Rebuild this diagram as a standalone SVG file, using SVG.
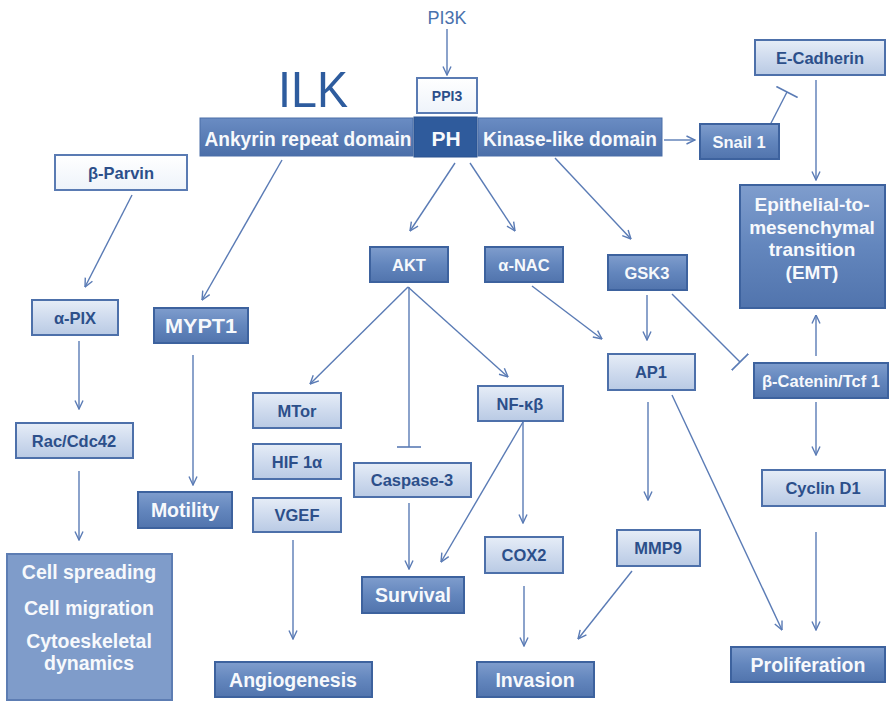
<svg xmlns="http://www.w3.org/2000/svg" width="890" height="703" viewBox="0 0 890 703">
  <defs>
    <linearGradient id="gDark" x1="0" y1="0" x2="0" y2="1">
      <stop offset="0" stop-color="#7f9dcd"/>
      <stop offset="0.5" stop-color="#6386bd"/>
      <stop offset="1" stop-color="#5174ad"/>
    </linearGradient>
    <linearGradient id="gLight" x1="0" y1="0" x2="0" y2="1">
      <stop offset="0" stop-color="#e6edf7"/>
      <stop offset="0.5" stop-color="#cfdbee"/>
      <stop offset="1" stop-color="#b9cae4"/>
    </linearGradient>
    <linearGradient id="gWhite" x1="0" y1="0" x2="0" y2="1">
      <stop offset="0" stop-color="#ffffff"/>
      <stop offset="1" stop-color="#eef3fa"/>
    </linearGradient>
    <linearGradient id="gBar" x1="0" y1="0" x2="0" y2="1">
      <stop offset="0" stop-color="#6a8cc3"/>
      <stop offset="1" stop-color="#4b6fa9"/>
    </linearGradient>
    <marker id="arrow" viewBox="0 0 10 10" refX="9.5" refY="5" markerWidth="10" markerHeight="10" markerUnits="userSpaceOnUse" orient="auto">
      <path d="M1,1 L9.5,5 L1,9" fill="none" stroke="#5a7bb5" stroke-width="1.4"/>
    </marker>
    <marker id="tee" viewBox="0 0 4 24" refX="2" refY="12" markerWidth="4" markerHeight="24" markerUnits="userSpaceOnUse" orient="auto">
      <path d="M2,0 L2,24" stroke="#5a7bb5" stroke-width="1.6"/>
    </marker>
  </defs>
  <style>
    .dk { fill: url(#gDark); stroke: #3d629e; stroke-width: 2; }
    .lt { fill: url(#gLight); stroke: #4d70aa; stroke-width: 2; }
    .wh { fill: url(#gWhite); stroke: #5a7bb3; stroke-width: 2; }
    text { font-family: "Liberation Sans", Arial, sans-serif; font-weight: bold; text-anchor: middle; dominant-baseline: central; }
    .tw { fill: #f7f9fc; }
    .tb { fill: #2c4f8a; }
    .s { font-size: 16.5px; }
    .b { font-size: 19.5px; }
    .cn line, .cn path { stroke: #5a7bb5; stroke-width: 1.4; fill: none; }
    .ar { marker-end: url(#arrow); }
    .in { marker-end: url(#tee); }
  </style>

  <rect width="890" height="703" fill="#ffffff"/>

  <!-- titles -->
  <text x="313" y="90" style="font-size:50px;font-weight:normal;fill:#2e5c9e" textLength="70" lengthAdjust="spacingAndGlyphs">ILK</text>
  <text x="447" y="18" style="font-size:18px;font-weight:normal;fill:#4a72ad">PI3K</text>

  <!-- connectors -->
  <g id="connectors" class="cn">
    <line class="ar" x1="447" y1="29" x2="447" y2="75"/>
    <line class="ar" x1="664" y1="140" x2="695" y2="140"/>
    <line class="in" x1="769" y1="127" x2="787" y2="92"/>
    <line class="ar" x1="816" y1="80" x2="816" y2="180"/>
    <line class="ar" x1="816" y1="356" x2="816" y2="315"/>
    <line class="ar" x1="132" y1="195" x2="85" y2="287"/>
    <line class="ar" x1="79" y1="341" x2="79" y2="409"/>
    <line class="ar" x1="79" y1="471" x2="79" y2="540"/>
    <line class="ar" x1="282" y1="160" x2="202" y2="300"/>
    <line class="ar" x1="193" y1="355" x2="193" y2="485"/>
    <line class="ar" x1="455" y1="163" x2="410" y2="231"/>
    <line class="ar" x1="470" y1="163" x2="515" y2="231"/>
    <line class="ar" x1="555" y1="158" x2="631" y2="239"/>
    <line class="ar" x1="408" y1="287" x2="310" y2="384"/>
    <line class="in" x1="409" y1="287" x2="409" y2="447"/>
    <line class="ar" x1="408" y1="287" x2="508" y2="377"/>
    <line class="ar" x1="532" y1="286" x2="602" y2="339"/>
    <line class="ar" x1="647" y1="295" x2="647" y2="340"/>
    <line class="in" x1="672" y1="294" x2="740" y2="362"/>
    <line class="ar" x1="293" y1="540" x2="293" y2="639"/>
    <line class="ar" x1="409" y1="503" x2="409" y2="569"/>
    <line class="ar" x1="523" y1="422" x2="441" y2="562"/>
    <line class="ar" x1="523" y1="422" x2="523" y2="523"/>
    <line class="ar" x1="524" y1="586" x2="524" y2="646"/>
    <line class="ar" x1="632" y1="571" x2="578" y2="639"/>
    <line class="ar" x1="648" y1="402" x2="648" y2="500"/>
    <line class="ar" x1="672" y1="395" x2="782" y2="630"/>
    <line class="ar" x1="816" y1="402" x2="816" y2="455"/>
    <line class="ar" x1="816" y1="532" x2="816" y2="630"/>
  </g>

  <!-- ILK domain bar -->
  <g id="ankyrin">
    <rect x="200" y="118" width="213" height="38" fill="url(#gBar)" stroke="#4a6ea8" stroke-width="1"/>
    <text class="tw" x="308" y="138" style="font-size:21px" textLength="207" lengthAdjust="spacingAndGlyphs">Ankyrin repeat domain</text>
  </g>
  <g id="ph">
    <rect x="414" y="117" width="63" height="40" fill="#2f5b9c" stroke="#2a5290" stroke-width="1"/>
    <text class="tw" x="446" y="138" style="font-size:21px">PH</text>
  </g>
  <g id="kinase">
    <rect x="478" y="118" width="184" height="38" fill="url(#gBar)" stroke="#4a6ea8" stroke-width="1"/>
    <text class="tw" x="570" y="138" style="font-size:21px" textLength="174" lengthAdjust="spacingAndGlyphs">Kinase-like domain</text>
  </g>

  <g id="ppi3">
    <rect class="wh" x="417" y="78" width="60" height="35"/>
    <text class="tb" x="447" y="96" style="font-size:14px">PPI3</text>
  </g>
  <g id="snail1">
    <rect class="dk" x="700" y="124" width="79" height="35"/>
    <text class="tw s" x="739" y="142">Snail 1</text>
  </g>
  <g id="ecadherin">
    <rect class="lt" x="755" y="40" width="130" height="35"/>
    <text class="tb s" x="820" y="58">E-Cadherin</text>
  </g>
  <g id="emt">
    <rect class="dk" x="740" y="185" width="145" height="123"/>
    <text class="tw" x="812" y="204" style="font-size:19px">Epithelial-to-</text>
    <text class="tw" x="812" y="227" style="font-size:19px">mesenchymal</text>
    <text class="tw" x="812" y="249" style="font-size:19px">transition</text>
    <text class="tw" x="812" y="272" style="font-size:19px">(EMT)</text>
  </g>

  <g id="bparvin">
    <rect class="wh" x="55" y="155" width="132" height="35"/>
    <text class="tb s" x="121" y="173">β-Parvin</text>
  </g>
  <g id="apix">
    <rect class="lt" x="32" y="300" width="86" height="35"/>
    <text class="tb s" x="75" y="318">α-PIX</text>
  </g>
  <g id="raccdc42">
    <rect class="lt" x="16" y="423" width="117" height="35"/>
    <text class="tb s" x="74" y="441">Rac/Cdc42</text>
  </g>
  <g id="cellspreading">
    <rect x="7" y="554" width="165" height="146" fill="#7f9cca" stroke="#5d7db3" stroke-width="2"/>
    <text class="tw b" x="89" y="572">Cell spreading</text>
    <text class="tw b" x="89" y="608">Cell migration</text>
    <text class="tw b" x="89" y="641">Cytoeskeletal</text>
    <text class="tw b" x="89" y="663">dynamics</text>
  </g>

  <g id="mypt1">
    <rect class="dk" x="154" y="308" width="94" height="35"/>
    <text class="tw" x="201" y="326" style="font-size:20px" textLength="72" lengthAdjust="spacingAndGlyphs">MYPT1</text>
  </g>
  <g id="motility">
    <rect class="dk" x="138" y="492" width="94" height="36"/>
    <text class="tw b" x="185" y="510">Motility</text>
  </g>

  <g id="akt">
    <rect class="dk" x="370" y="247" width="78" height="35"/>
    <text class="tw s" x="409" y="265">AKT</text>
  </g>
  <g id="anac">
    <rect class="dk" x="485" y="247" width="78" height="35"/>
    <text class="tw s" x="524" y="265">α-NAC</text>
  </g>
  <g id="gsk3">
    <rect class="dk" x="608" y="255" width="79" height="35"/>
    <text class="tw s" x="647" y="273">GSK3</text>
  </g>

  <g id="mtor">
    <rect class="lt" x="253" y="393" width="88" height="35"/>
    <text class="tb s" x="297" y="411">MTor</text>
  </g>
  <g id="hif1a">
    <rect class="lt" x="253" y="444" width="88" height="35"/>
    <text class="tb s" x="297" y="462">HIF 1α</text>
  </g>
  <g id="vgef">
    <rect class="lt" x="253" y="498" width="88" height="34"/>
    <text class="tb s" x="297" y="515">VGEF</text>
  </g>
  <g id="angiogenesis">
    <rect class="dk" x="215" y="662" width="157" height="35"/>
    <text class="tw b" x="293" y="680">Angiogenesis</text>
  </g>

  <g id="caspase3">
    <rect class="lt" x="354" y="463" width="117" height="34"/>
    <text class="tb s" x="412" y="480">Caspase-3</text>
  </g>
  <g id="survival">
    <rect class="dk" x="362" y="577" width="102" height="36"/>
    <text class="tw b" x="413" y="595">Survival</text>
  </g>

  <g id="nfkb">
    <rect class="lt" x="478" y="386" width="85" height="35"/>
    <text class="tb s" x="520" y="404">NF-κβ</text>
  </g>
  <g id="cox2">
    <rect class="lt" x="485" y="537" width="78" height="36"/>
    <text class="tb s" x="524" y="555">COX2</text>
  </g>
  <g id="invasion">
    <rect class="dk" x="477" y="662" width="117" height="35"/>
    <text class="tw b" x="535" y="680">Invasion</text>
  </g>

  <g id="ap1">
    <rect class="lt" x="608" y="354" width="87" height="36"/>
    <text class="tb s" x="651" y="372">AP1</text>
  </g>
  <g id="mmp9">
    <rect class="lt" x="617" y="530" width="83" height="36"/>
    <text class="tb s" x="658" y="548">MMP9</text>
  </g>

  <g id="bcatenin">
    <rect class="dk" x="754" y="363" width="134" height="35"/>
    <text class="tw s" x="821" y="381">β-Catenin/Tcf 1</text>
  </g>
  <g id="cyclind1">
    <rect class="lt" x="762" y="470" width="123" height="36"/>
    <text class="tb s" x="823" y="488">Cyclin D1</text>
  </g>
  <g id="proliferation">
    <rect class="dk" x="731" y="647" width="154" height="35"/>
    <text class="tw b" x="808" y="665">Proliferation</text>
  </g>
</svg>
